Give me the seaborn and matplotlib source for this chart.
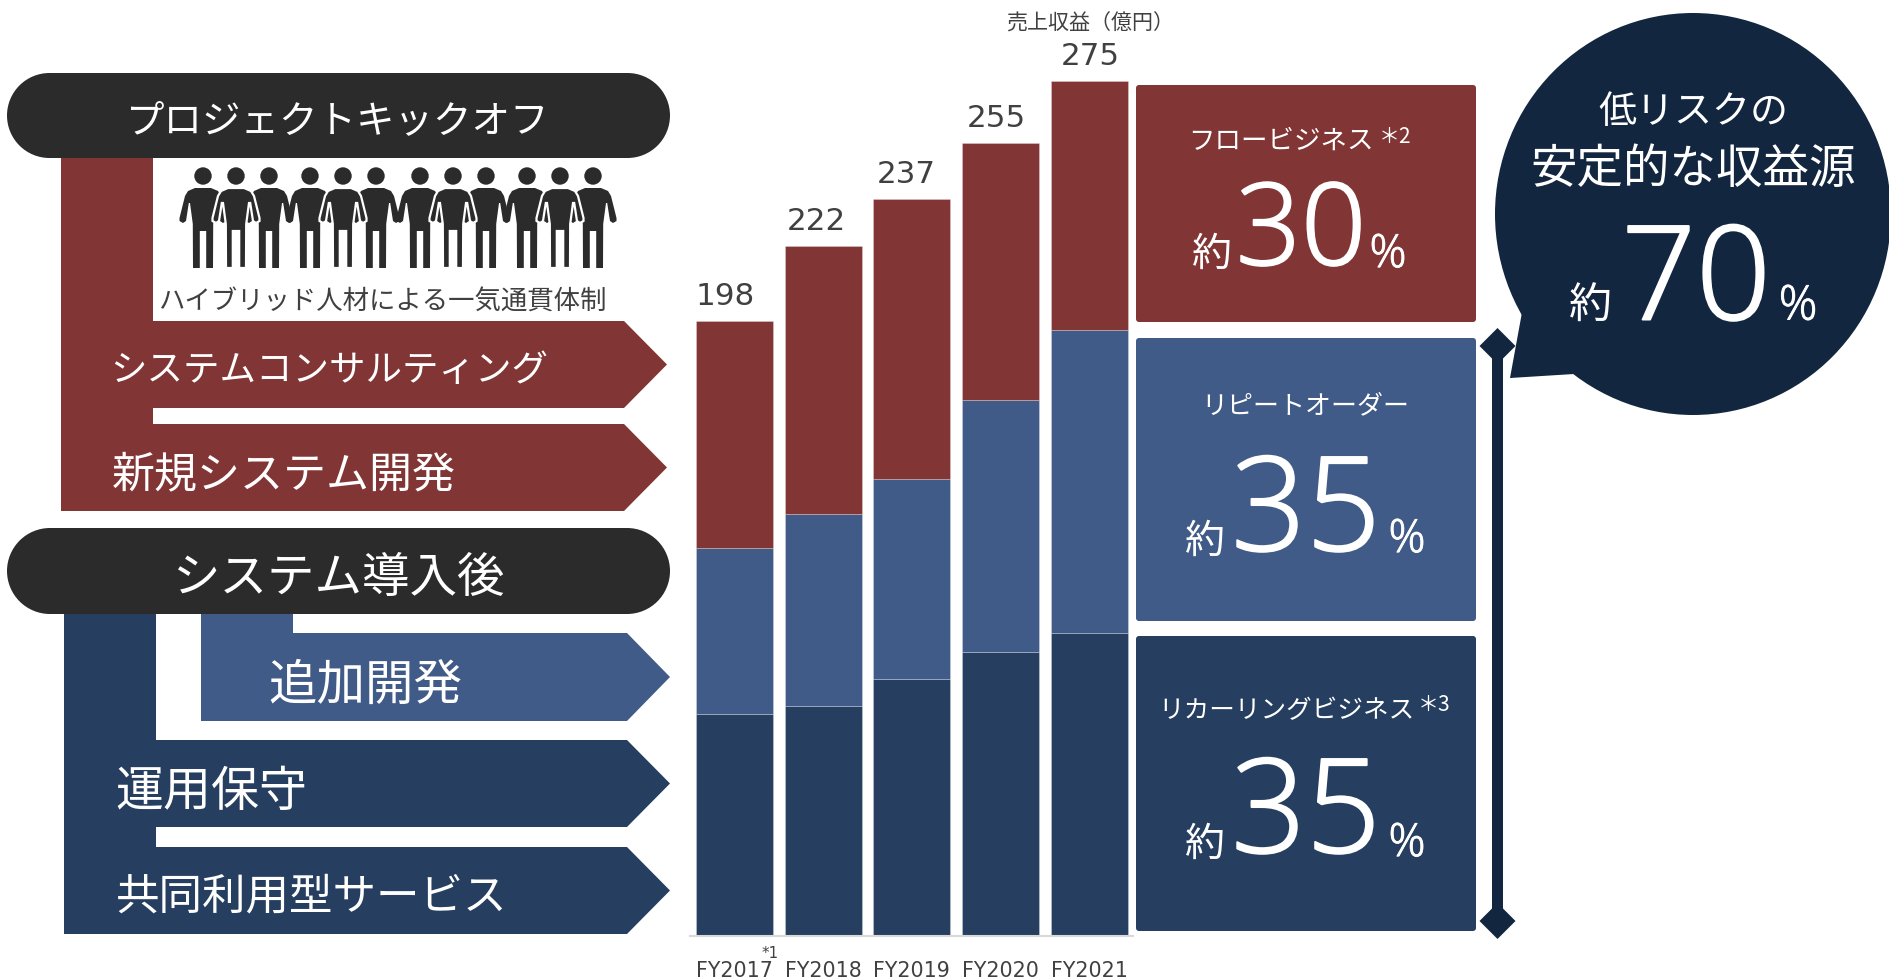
import matplotlib
matplotlib.use("Agg")
import matplotlib.pyplot as plt
import matplotlib.patheffects as pe
import numpy as np
import seaborn as sns
from matplotlib.patches import Circle, Ellipse, FancyBboxPatch, Polygon

# Revenue by fiscal year (100 million yen), split by business type
years = ["FY2017", "FY2018", "FY2019", "FY2020", "FY2021"]
recurring = [71.3, 73.9, 82.6, 91.3, 97.4]
repeat_orders = [53.7, 61.8, 64.4, 81.0, 97.5]
flow = [73.0, 86.3, 90.0, 82.7, 80.1]
totals = [198, 222, 237, 255, 275]

RED = "#823535"
BLUE = "#405B87"
DARK = "#263F60"
NAVY = "#122640"
INK = "#2B2B2B"
GREY = "#404040"
WHITE = "white"
LIGHT = "Open Sans"

sns.set_theme(style="white")
plt.rcParams["font.family"] = ["Noto Sans CJK JP", "DejaVu Sans"]

W, H = 1889, 978
fig = plt.figure(figsize=(W / 100, H / 100), dpi=100, facecolor="white")

# Diagram layer laid out in pixel units
diagram = fig.add_axes([0, 0, 1, 1])
diagram.set_xlim(0, W)
diagram.set_ylim(H, 0)
diagram.axis("off")


def pt(px):
    return px * 0.72


def label(x, y, s, px, color=WHITE, ha="center", font=None, weight="normal", thicken=0):
    # Vertical centring of these fonts sits high, so nudge the baseline down
    drop = 0.0 if font == "DejaVu Sans" else (0.09 if font == LIGHT else 0.11) * px
    t = diagram.text(x, y + drop, s, fontsize=pt(px), color=color, ha=ha, va="center",
                     family=font or ["Noto Sans CJK JP", "DejaVu Sans"], weight=weight, zorder=5)
    if thicken:
        t.set_path_effects([pe.withStroke(linewidth=thicken, foreground=color)])


def pill(x0, x1, y0, y1):
    r = (y1 - y0) / 2
    diagram.add_patch(Polygon([(x0 + r, y0), (x1 - r, y0), (x1 - r, y1), (x0 + r, y1)], closed=True,
                              facecolor=INK, linewidth=0, zorder=3))
    for cx in (x0 + r, x1 - r):
        diagram.add_patch(Circle((cx, y0 + r), r, facecolor=INK, linewidth=0, zorder=3))


def panel(x0, x1, y0, y1, color):
    diagram.add_patch(FancyBboxPatch((x0, y0), x1 - x0, y1 - y0, linewidth=0, facecolor=color,
                                     boxstyle="round,pad=0,rounding_size=3"))


def chevron(x0, shoulder, tip, y0, y1, color):
    diagram.add_patch(Polygon([(x0, y0), (shoulder, y0), (tip, (y0 + y1) / 2), (shoulder, y1), (x0, y1)],
                              closed=True, facecolor=color, linewidth=0))


def block(x0, x1, y0, y1, color):
    diagram.add_patch(Polygon([(x0, y0), (x1, y0), (x1, y1), (x0, y1)], closed=True,
                              facecolor=color, linewidth=0))


# Kick-off phase
pill(7, 670, 74, 159)
block(61, 153, 150, 512, RED)
chevron(100, 624, 667, 322, 409, RED)
chevron(100, 624, 667, 425, 512, RED)

# Post-introduction phase
pill(7, 670, 529, 615)
block(64, 156, 600, 935, DARK)
block(201, 293, 600, 640, BLUE)
chevron(201, 627, 670, 634, 722, BLUE)
chevron(100, 627, 670, 741, 828, DARK)
chevron(100, 627, 670, 848, 935, DARK)

label(338, 117, "プロジェクトキックオフ", 38.5)
label(339, 573, "システム導入後", 47.5)
label(110, 367, "システムコンサルティング", 36.5, ha="left")
label(112, 471, "新規システム開発", 43, ha="left")
label(268, 681, "追加開発", 48.5, ha="left")
label(115, 787, "運用保守", 48, ha="left")
label(116, 893, "共同利用型サービス", 43.5, ha="left")
label(382, 299, "ハイブリッド人材による一気通貫体制", 26.4, color=GREY)

# Row of team members: the outer figures sit behind the outlined centre ones
body = np.array([(-8, 0), (8, 0), (15, 3), (18, 8), (23.5, 30), (23.5, 33), (20, 35), (17, 33), (14.2, 15),
                 (13, 15), (10.2, 36), (10, 80), (3.2, 80), (3.2, 43), (-3.2, 43), (-3.2, 80), (-10, 80),
                 (-10.2, 36), (-13, 15), (-14.2, 15), (-17, 33), (-20, 35), (-23.5, 33), (-23.5, 30),
                 (-18, 8), (-15, 3)])
people_x = [203, 236, 269, 310, 343, 376, 420, 453, 486, 527, 560, 593]
for layer in (0, 1):
    for i, cx in enumerate(people_x):
        front = i % 3 == 1
        if front != bool(layer):
            continue
        diagram.add_patch(Polygon(body + (cx, 189), closed=True, facecolor=INK,
                                  edgecolor=WHITE if front else INK, linewidth=1.6 if front else 0, zorder=2))
        diagram.add_patch(Circle((cx, 177), 8.7, facecolor=INK, linewidth=0, zorder=2))

# Stacked revenue bars
ax = fig.add_axes([690 / W, (H - 937) / H, 443.5 / W, 932.4 / H])
ax.patch.set_alpha(0)
bar_kws = dict(width=0.868, saturation=1, linewidth=0.7, edgecolor=(1, 1, 1, 0.25), errorbar=None, ax=ax)
bottom_blue = np.array(recurring)
bottom_red = bottom_blue + np.array(repeat_orders)
sns.barplot(x=years, y=recurring, color=DARK, **bar_kws)
sns.barplot(x=years, y=repeat_orders, color=BLUE, bottom=bottom_blue, **bar_kws)
sns.barplot(x=years, y=flow, color=RED, bottom=bottom_red, **bar_kws)
ax.set_xlim(-0.5, 4.5)
ax.set_ylim(0, 300)
ax.set_yticks([])
ax.tick_params(axis="x", length=0, pad=17.5)
ax.set_xticks(range(len(years)))
ax.set_xticklabels(years, fontsize=pt(20.6), color=GREY, family="DejaVu Sans")
sns.despine(ax=ax, left=True)
ax.spines["bottom"].set_color("#D9D9D9")
ax.spines["bottom"].set_linewidth(1.5)

total_shift_px = [-9.5, -6.5, -5.5, -4.5, 1]
for i, value in enumerate(totals):
    ax.annotate(str(value), (i, value), xytext=(pt(total_shift_px[i]), pt(25.5)), textcoords="offset points",
                ha="center", va="center", fontsize=pt(31), color=GREY, family="DejaVu Sans")

label(1090, 21, "売上収益（億円）", 21, color=GREY)
label(770, 953, "*1", 15, color=GREY, font="DejaVu Sans")

# Share panels
panel(1136, 1476, 86, 323, RED)
panel(1136, 1476, 339, 622, BLUE)
panel(1136, 1476, 637, 932, DARK)

label(1281, 138, "フロービジネス", 26.5)
label(1395, 135, "＊2", 21)
label(1212, 250, "約", 40)
label(1301, 226, "30", 114, font=LIGHT, weight="light", thicken=1.4)
label(1388, 252, "%", 46, font=LIGHT, weight="light", thicken=0.6)

label(1305, 403, "リピートオーダー", 26)
label(1205, 537, "約", 40)
label(1306, 506, "35", 131, font=LIGHT, weight="light", thicken=1.4)
label(1407, 537, "%", 46, font=LIGHT, weight="light", thicken=0.6)

label(1287, 708, "リカーリングビジネス", 25.6)
label(1434, 703, "＊3", 21)
label(1205, 840, "約", 40)
label(1306, 808, "35", 131, font=LIGHT, weight="light", thicken=1.4)
label(1407, 841, "%", 46, font=LIGHT, weight="light", thicken=0.6)

# Span marker next to the recurring and repeat panels
block(1491.7, 1503.3, 347, 922, NAVY)
diagram.add_patch(Polygon([(1497.5, 329), (1515.5, 347), (1497.5, 365), (1479.5, 347)], closed=True,
                          facecolor=NAVY, linewidth=0))
diagram.add_patch(Polygon([(1497.5, 904), (1515.5, 922), (1497.5, 940), (1479.5, 922)], closed=True,
                          facecolor=NAVY, linewidth=0))

# Speech bubble
diagram.add_patch(Ellipse((1693, 215), 396, 402, facecolor=NAVY, linewidth=0))
diagram.add_patch(Polygon([(1521.7, 315), (1510, 379), (1574, 375), (1620, 300)], closed=True,
                          facecolor=NAVY, linewidth=0))
label(1693, 108, "低リスクの", 38)
label(1693, 165, "安定的な収益源", 46.5)
label(1590, 302, "約", 43)
label(1696, 275, "70", 131, font=LIGHT, weight="light", thicken=1.4)
label(1798, 304, "%", 48, font=LIGHT, weight="light", thicken=0.6)

fig.savefig("out.png", dpi=100)
